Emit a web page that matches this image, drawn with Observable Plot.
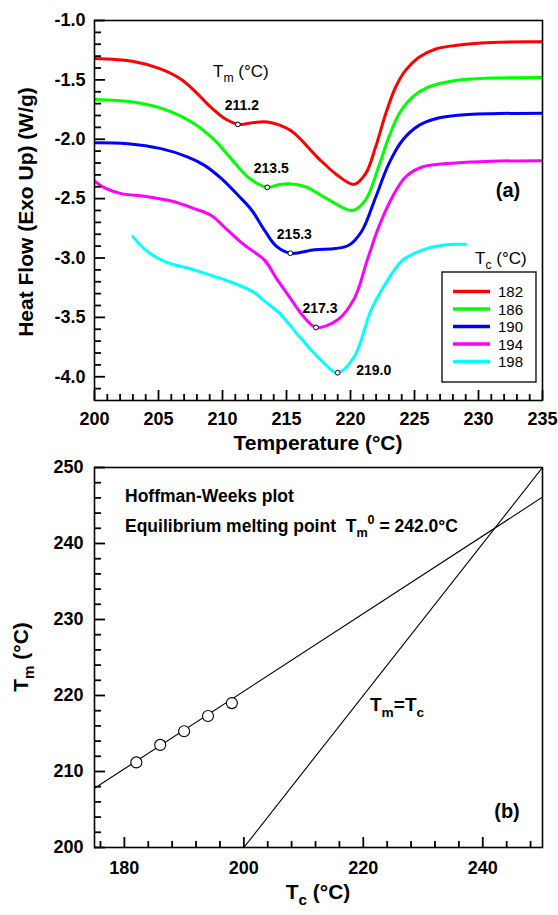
<!DOCTYPE html>
<html><head><meta charset="utf-8">
<script src="https://cdn.jsdelivr.net/npm/d3@7"></script>
<script src="https://cdn.jsdelivr.net/npm/@observablehq/plot@0.6"></script>
<style>
body{margin:0;background:#fff;}
#wrap{position:relative;width:558px;height:915px;font-family:"Liberation Sans",Arial,sans-serif;}
#panelA,#panelB{position:absolute;left:0;}
#panelA{top:0}
#panelB{top:455px}
#ann{position:absolute;left:0;top:0;pointer-events:none;overflow:visible}
#ann text{font-family:"Liberation Sans",Arial,sans-serif;fill:#000;white-space:pre}
</style></head><body>
<div id="wrap"><div id="panelA"></div><div id="panelB"></div><svg id="ann" width="558" height="915"></svg></div>
<script>
const FONT = '"Liberation Sans", Arial, sans-serif';

// ---------- Panel (a): DSC melting curves ----------
const crystTemps = [182, 186, 190, 194, 198];
const curveColors = ["#ff0000", "#00ff00", "#0000ff", "#ff00ff", "#00ffff"];

const temp182 = [200, 203.05, 205.1, 206.7, 207.8, 208.8, 209.3, 210.2, 211.3, 212.4, 213.5, 215.3, 217.4, 218.83, 220.27, 221.18, 221.96, 222.75, 223.53, 224.3, 225.35, 226.66, 228.2, 231, 235];
const flow182 = [-1.32, -1.345, -1.405, -1.49, -1.59, -1.70, -1.75, -1.827, -1.875, -1.86, -1.855, -1.925, -2.15, -2.29, -2.38, -2.29, -2.066, -1.785, -1.56, -1.42, -1.31, -1.24, -1.21, -1.185, -1.18];

const temp186 = [200, 203.05, 205.7, 207.8, 209.4, 211.0, 212.0, 213.5, 214.3, 215.2, 216.5, 218.3, 220.14, 221.18, 222.2, 223.0, 223.8, 224.83, 226.1, 228.2, 231, 235];
const flow186 = [-1.665, -1.687, -1.757, -1.87, -2.01, -2.205, -2.32, -2.405, -2.385, -2.375, -2.40, -2.51, -2.60, -2.51, -2.23, -1.98, -1.785, -1.645, -1.56, -1.505, -1.485, -1.48];

const temp190 = [200, 202.6, 205.2, 207.3, 208.6, 209.9, 211.2, 212.3, 213.3, 214.2, 215.3, 217.2, 218.83, 219.9, 220.9, 221.96, 223.0, 224.05, 225.35, 226.66, 228.2, 231, 235];
const flow190 = [-2.029, -2.037, -2.079, -2.15, -2.22, -2.33, -2.47, -2.60, -2.77, -2.90, -2.96, -2.93, -2.92, -2.89, -2.77, -2.49, -2.205, -2.01, -1.883, -1.827, -1.80, -1.785, -1.78];

const temp194 = [200, 200.8, 202.1, 203.9, 206.0, 207.8, 209.1, 210.4, 211.7, 213.3, 214.2, 215.05, 216.35, 217.3, 219.0, 220.3, 221.3, 222.2, 223.27, 224.3, 225.6, 228.2, 231, 235];
const flow194 = [-2.351, -2.41, -2.458, -2.48, -2.52, -2.584, -2.64, -2.766, -2.89, -3.02, -3.17, -3.30, -3.495, -3.585, -3.52, -3.34, -3.02, -2.74, -2.486, -2.318, -2.234, -2.20, -2.185, -2.18];

const temp198 = [203.0, 204.2, 205.5, 207.6, 210.6, 212.4, 213.2, 214.5, 215.8, 217.7, 219.0, 220.3, 221.6, 222.6, 224.05, 225.6, 227.3, 229.0];
const flow198 = [-2.82, -2.95, -3.03, -3.095, -3.20, -3.285, -3.355, -3.47, -3.635, -3.86, -3.966, -3.83, -3.44, -3.24, -3.02, -2.934, -2.89, -2.884];

const peakTemp = [211.2, 213.5, 215.3, 217.3, 219.0];
const peakFlow = [-1.875, -2.405, -2.96, -3.585, -3.966];

const xTicksA = [200, 205, 210, 215, 220, 225, 230, 235];
const yTicksA = [-1.0, -1.5, -2.0, -2.5, -3.0, -3.5, -4.0];

// ---------- Panel (b): Hoffman-Weeks plot ----------
const hwTc = [182, 186, 190, 194, 198];
const hwTm = [211.2, 213.5, 215.3, 217.3, 219.0];
const fitTc = [175, 250];
const fitTm = [207.8, 246.1];
const eqTc = [200, 250];
const eqTm = [200, 250];
const xTicksB = [180, 200, 220, 240];
const yTicksB = [200, 210, 220, 230, 240, 250];

// ---------- build tables ----------
const temps = [temp182, temp186, temp190, temp194, temp198];
const flows = [flow182, flow186, flow190, flow194, flow198];
const curves = crystTemps.flatMap((tc, i) => temps[i].map((t, j) => ({tc, t, h: flows[i][j]})));
const peaks = peakTemp.map((t, i) => ({t, h: peakFlow[i]}));
const xMinorA = d3.range(201, 235, 1).filter(v => !xTicksA.includes(v));
const yMinorA = d3.range(-41, -10, 1).map(v => v / 10).filter(v => !yTicksA.some(t => Math.abs(t - v) < 1e-9));

const WA = 558, HA = 455, mA = {t: 20, r: 16, b: 55, l: 94};
const pwA = WA - mA.l - mA.r, phA = HA - mA.t - mA.b;

const plotA = Plot.plot({
  width: WA, height: HA,
  marginTop: mA.t, marginRight: mA.r, marginBottom: mA.b, marginLeft: mA.l,
  style: {fontFamily: FONT, background: "transparent", color: "#000"},
  x: {domain: [200, 235]},
  y: {domain: [-4.2, -1.0]},
  color: {type: "ordinal", domain: crystTemps, range: curveColors},
  marks: [
    Plot.line(curves, {x: "t", y: "h", z: "tc", stroke: "tc", strokeWidth: 3, curve: "catmull-rom", clip: true}),
    Plot.dot(peaks, {x: "t", y: "h", r: 2.4, fill: "white", stroke: "black", strokeWidth: 1}),
    Plot.text(peaks.slice(0, 4), {x: "t", y: "h", text: d => d.t.toFixed(1), dx: 4, dy: -19, fontSize: 14, fontWeight: "bold", fill: "black"}),
    Plot.text(peaks.slice(4), {x: "t", y: "h", text: d => d.t.toFixed(1), dx: 36, dy: -2, fontSize: 14, fontWeight: "bold", fill: "black"}),
    Plot.axisY(yTicksA, {anchor: "left", tickSize: 0, tickPadding: 9, tickFormat: d => d.toFixed(1), fontSize: 18, fontWeight: "bold", label: null}),
    Plot.axisX(xTicksA, {anchor: "bottom", tickSize: 0, tickPadding: 12, tickFormat: d => String(d), fontSize: 18, fontWeight: "bold", label: null}),
    // inward ticks
    Plot.ruleY(yTicksA, {insetRight: pwA - 11, stroke: "black", strokeWidth: 1.8}),
    Plot.ruleY(yMinorA, {insetRight: pwA - 7, stroke: "black", strokeWidth: 1.8}),
    Plot.ruleX(xTicksA, {insetTop: phA - 10, stroke: "black", strokeWidth: 1.8}),
    Plot.ruleX(xMinorA, {insetTop: phA - 6, stroke: "black", strokeWidth: 1.8}),
    Plot.frame({stroke: "black", strokeWidth: 1.6})
  ]
});
document.getElementById("panelA").append(plotA);

// panel (b)
const hwPoints = hwTc.map((tc, i) => ({tc, tm: hwTm[i]}));
const fitLine = fitTc.map((tc, i) => ({tc, tm: fitTm[i]}));
const eqLine = eqTc.map((tc, i) => ({tc, tm: eqTm[i]}));
const xMinorB = d3.range(176, 250, 4).filter(v => !xTicksB.includes(v));
const yMinorB = d3.range(202, 250, 2).filter(v => !yTicksB.includes(v));

const WB = 558, HB = 460, mB = {t: 12, r: 16, b: 68, l: 94};
const pwB = WB - mB.l - mB.r, phB = HB - mB.t - mB.b;

const plotB = Plot.plot({
  width: WB, height: HB,
  marginTop: mB.t, marginRight: mB.r, marginBottom: mB.b, marginLeft: mB.l,
  style: {fontFamily: FONT, background: "transparent", color: "#000"},
  x: {domain: [175, 250]},
  y: {domain: [200, 250]},
  marks: [
    Plot.line(fitLine, {x: "tc", y: "tm", stroke: "black", strokeWidth: 1.1, clip: true}),
    Plot.line(eqLine, {x: "tc", y: "tm", stroke: "black", strokeWidth: 1.1, clip: true}),
    Plot.dot(hwPoints, {x: "tc", y: "tm", r: 5.5, fill: "white", stroke: "black", strokeWidth: 1.1}),
    Plot.axisY(yTicksB, {anchor: "left", tickSize: 0, tickPadding: 11, tickFormat: d => String(d), fontSize: 18, fontWeight: "bold", label: null}),
    Plot.axisX(xTicksB, {anchor: "bottom", tickSize: 0, tickPadding: 14, tickFormat: d => String(d), fontSize: 18, fontWeight: "bold", label: null}),
    Plot.ruleY(yTicksB, {insetRight: pwB - 11, stroke: "black", strokeWidth: 1.8}),
    Plot.ruleY(yMinorB, {insetRight: pwB - 7, stroke: "black", strokeWidth: 1.8}),
    Plot.ruleX(xTicksB, {insetTop: phB - 10, stroke: "black", strokeWidth: 1.8}),
    Plot.ruleX(xMinorB, {insetTop: phB - 6, stroke: "black", strokeWidth: 1.8}),
    Plot.frame({stroke: "black", strokeWidth: 1.6})
  ]
});
document.getElementById("panelB").append(plotB);

// ---------- annotations, axis titles, legend ----------
const ann = d3.select("#ann");
function txt(x, y, parts, {size = 17, weight = "normal", anchor = "start", rotate = 0} = {}) {
  const t = ann.append("text")
    .attr("transform", `translate(${x},${y})` + (rotate ? ` rotate(${rotate})` : ""))
    .attr("font-size", size).attr("font-weight", weight).attr("text-anchor", anchor);
  let shift = 0;
  for (const p of parts) {
    const s = t.append("tspan");
    if (typeof p === "string") {
      s.text(p);
      if (shift) s.attr("dy", -shift);
      shift = 0;
    } else {
      const d = p.sub ? size * 0.3 : -size * 0.45;
      s.text(p.t).attr("font-size", size * 0.72).attr("dy", d - shift);
      shift = d;
    }
  }
  return t;
}

// panel (a)
txt(33, 212, ["Heat Flow (Exo Up) (W/g)"], {size: 21, weight: "bold", anchor: "middle", rotate: -90});
txt(318, 450, ["Temperature (°C)"], {size: 21, weight: "bold", anchor: "middle"});
txt(213, 77, ["T", {t: "m", sub: true}, " (°C)"], {size: 17});
txt(508, 197, ["(a)"], {size: 20, weight: "bold", anchor: "middle"});
txt(475, 264, ["T", {t: "c", sub: true}, " (°C)"], {size: 17});

// legend box
const lg = {x: 442, y: 272, w: 94, h: 110};
ann.append("rect").attr("x", lg.x).attr("y", lg.y).attr("width", lg.w).attr("height", lg.h)
  .attr("fill", "white").attr("stroke", "black").attr("stroke-width", 1.3);
crystTemps.forEach((tc, i) => {
  const cy = lg.y + 19.5 + i * 17.5;
  ann.append("line").attr("x1", lg.x + 11).attr("x2", lg.x + 48).attr("y1", cy).attr("y2", cy)
    .attr("stroke", curveColors[i]).attr("stroke-width", 3.5);
  txt(lg.x + 56, cy + 5.5, [String(tc)], {size: 15});
});

// panel (b)
txt(28, 657, ["T", {t: "m", sub: true}, " (°C)"], {size: 21, weight: "bold", anchor: "middle", rotate: -90});
txt(318, 899, ["T", {t: "c", sub: true}, " (°C)"], {size: 21, weight: "bold", anchor: "middle"});
txt(125, 502, ["Hoffman-Weeks plot"], {size: 17.5, weight: "bold"});
txt(125, 532, ["Equilibrium melting point  T", {t: "m", sub: true}, {t: "0", sub: false}, " = 242.0°C"], {size: 17.5, weight: "bold"});
txt(370, 711, ["T", {t: "m", sub: true}, "=T", {t: "c", sub: true}], {size: 19, weight: "bold"});
txt(507, 818, ["(b)"], {size: 20, weight: "bold", anchor: "middle"});
</script>
</body></html>
